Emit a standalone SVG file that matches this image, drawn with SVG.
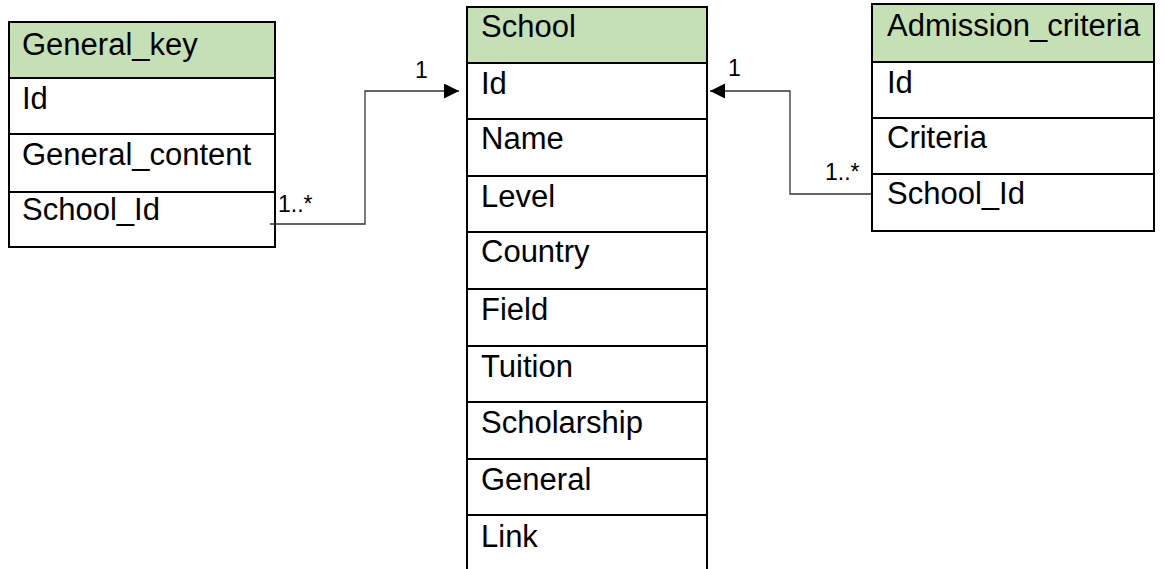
<svg xmlns="http://www.w3.org/2000/svg" width="1165" height="569" viewBox="0 0 1165 569">
  <style>
    .box { fill: #ffffff; stroke: #000000; stroke-width: 2; }
    .head { fill: #C5E0B4; stroke: #000000; stroke-width: 2; }
    .sep { stroke: #000000; stroke-width: 2; }
    .field { font-family: "Liberation Sans", Arial, sans-serif; font-size: 31px; fill: #000000; }
    .mult { font-family: "Liberation Sans", Arial, sans-serif; font-size: 23px; fill: #000000; }
    .link { fill: none; stroke: #333333; stroke-width: 1.3; }
  </style>
  <defs>
    <marker id="arrow" markerUnits="userSpaceOnUse" markerWidth="16" markerHeight="16" refX="15" refY="7.5" orient="auto">
      <path d="M0,0 L15,7.5 L0,15 Z" fill="#000000"/>
    </marker>
  </defs>

  <rect width="1165" height="569" fill="#ffffff"/>

  <!-- General_key table -->
  <g id="general_key">
    <rect class="box" x="9" y="22" width="266" height="225"/>
    <rect class="head" x="9" y="22" width="266" height="56"/>
    <line class="sep" x1="9" y1="134" x2="275" y2="134"/>
    <line class="sep" x1="9" y1="192" x2="275" y2="192"/>
    <text class="field" x="22" y="55">General_key</text>
    <text class="field" x="22" y="109">Id</text>
    <text class="field" x="22" y="165">General_content</text>
    <text class="field" x="22" y="220">School_Id</text>
  </g>

  <!-- School table (runs past the bottom edge) -->
  <g id="school">
    <rect class="box" x="467" y="7" width="240" height="580"/>
    <rect class="head" x="467" y="7" width="240" height="56"/>
    <line class="sep" x1="467" y1="119" x2="707" y2="119"/>
    <line class="sep" x1="467" y1="176" x2="707" y2="176"/>
    <line class="sep" x1="467" y1="232" x2="707" y2="232"/>
    <line class="sep" x1="467" y1="289" x2="707" y2="289"/>
    <line class="sep" x1="467" y1="346" x2="707" y2="346"/>
    <line class="sep" x1="467" y1="402" x2="707" y2="402"/>
    <line class="sep" x1="467" y1="459" x2="707" y2="459"/>
    <line class="sep" x1="467" y1="515" x2="707" y2="515"/>
    <text class="field" x="481" y="37">School</text>
    <text class="field" x="481" y="94">Id</text>
    <text class="field" x="481" y="149">Name</text>
    <text class="field" x="481" y="207">Level</text>
    <text class="field" x="481" y="262">Country</text>
    <text class="field" x="481" y="320">Field</text>
    <text class="field" x="481" y="377">Tuition</text>
    <text class="field" x="481" y="433">Scholarship</text>
    <text class="field" x="481" y="490">General</text>
    <text class="field" x="481" y="547">Link</text>
  </g>

  <!-- Admission_criteria table -->
  <g id="admission_criteria">
    <rect class="box" x="872" y="4" width="282" height="227"/>
    <rect class="head" x="872" y="4" width="282" height="58"/>
    <line class="sep" x1="872" y1="118" x2="1154" y2="118"/>
    <line class="sep" x1="872" y1="174" x2="1154" y2="174"/>
    <text class="field" x="887" y="36">Admission_criteria</text>
    <text class="field" x="887" y="93">Id</text>
    <text class="field" x="887" y="148">Criteria</text>
    <text class="field" x="887" y="204">School_Id</text>
  </g>

  <!-- Relationships -->
  <g id="connectors">
    <polyline class="link" points="270,224 365,224 365,91 459,91" marker-end="url(#arrow)"/>
    <text class="mult" x="278" y="212">1..*</text>
    <text class="mult" x="415" y="78">1</text>

    <polyline class="link" points="871,194 790,194 790,91 710,91" marker-end="url(#arrow)"/>
    <text class="mult" x="825" y="180">1..*</text>
    <text class="mult" x="728" y="76">1</text>
  </g>
</svg>
